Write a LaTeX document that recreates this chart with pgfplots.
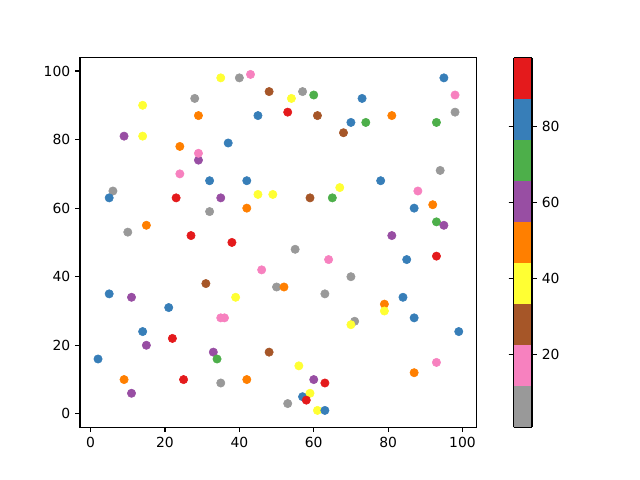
\documentclass[border=0pt]{standalone}
\usepackage{pgfplots}
\pgfplotsset{compat=1.18}
\usepackage{fontspec}
\setmainfont{DejaVu Sans}

\pgfplotstableread{
x y c
35 98 39
40 98 5
43 99 17
48 94 28
53 88 93
14 90 39
28 92 5
29 87 50
45 87 82
9 81 60
14 81 39
24 78 50
37 79 82
29 74 60
29 76 17
24 70 17
32 68 82
42 68 82
6 65 5
5 63 82
23 63 93
35 63 60
45 64 39
49 64 39
32 59 5
42 60 50
10 53 5
15 55 50
27 52 93
38 50 93
95 98 82
98 93 17
98 88 5
54 92 39
57 94 5
60 93 71
61 87 28
73 92 82
70 85 82
74 85 71
68 82 28
81 87 50
93 85 71
94 71 5
78 68 82
88 65 17
92 61 50
87 60 82
93 56 71
95 55 60
81 52 60
67 66 39
65 63 71
59 63 28
46 42 17
31 38 28
50 37 5
52 37 50
39 34 39
5 35 82
11 34 60
21 31 82
35 28 17
36 28 17
14 24 82
22 22 93
15 20 60
2 16 82
33 18 60
34 16 71
48 18 28
9 10 50
25 10 93
35 9 5
42 10 50
11 6 60
53 3 5
55 48 5
64 45 17
85 45 82
93 46 93
70 40 5
63 35 5
84 34 82
79 32 50
79 30 39
87 28 82
71 27 5
70 26 39
99 24 82
93 15 17
87 12 50
56 14 39
60 10 60
63 9 93
57 5 82
59 6 39
58 4 93
61 1 39
63 1 82
}\pts

\begin{document}
\begin{tikzpicture}
\path[use as bounding box] (0,0) rectangle (460.8pt,345.6pt);
\begin{axis}[
    at={(57.6pt,38pt)}, anchor=south west,
    scale only axis,
    width=285.7pt, height=266.1pt,
    xmin=-2.85, xmax=103.85,
    ymin=-3.9, ymax=103.9,
    xtick={0,20,40,60,80,100},
    ytick={0,20,40,60,80,100},
    tick align=outside,
    major tick length=3.5pt,
    axis line style={line width=0.8pt},
    every tick/.style={black, line width=0.8pt},
    xtick pos=bottom, ytick pos=left,
    tick label style={font=\fontsize{10}{12}\selectfont},
    /pgf/number format/assume math mode=true,
    colormap={setonerev}{
        rgb255=(153,153,153) rgb255=(247,129,191) rgb255=(166,86,40)
        rgb255=(255,255,51) rgb255=(255,127,0) rgb255=(152,78,163)
        rgb255=(77,175,74) rgb255=(55,126,184) rgb255=(228,26,28)},
    colormap access=piecewise constant,
    point meta min=1, point meta max=98,
    colorbar,
    colorbar style={
        scale only axis,
        width=13.3pt, height=266.1pt,
        at={(parent axis.north east)}, anchor=north west, xshift=17.9pt,
        ytick={20,40,60,80},
        tick align=outside,
        major tick length=3.5pt,
        axis line style={line width=0.8pt},
        every tick/.style={black, line width=0.8pt},
        yticklabel style={font=\fontsize{10}{12}\selectfont},
        /pgf/number format/assume math mode=true,
    },
]
\addplot[scatter, only marks, mark=*, mark size=3pt, point meta=explicit,
    scatter/use mapped color={draw=mapped color, fill=mapped color}]
    table[x=x, y=y, meta=c] {\pts};
\end{axis}
\end{tikzpicture}
\end{document}
